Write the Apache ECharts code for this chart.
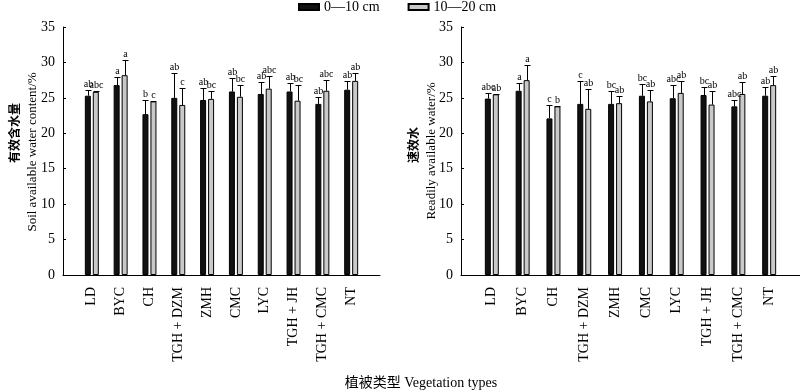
<!DOCTYPE html>
<html>
<head>
<meta charset="utf-8">
<script src="https://cdn.jsdelivr.net/npm/echarts@6/dist/echarts.min.js"></script>
<style>html,body{margin:0;padding:0;background:#fff;}#c{width:800px;height:392px;}</style>
</head>
<body>
<div id="c"></div>
<script>
const categories = ['LD','BYC','CH','TGH + DZM','ZMH','CMC','LYC','TGH + JH','TGH + CMC','NT'];
const seriesNames = ['0\u201410 cm','10\u201420 cm'];
const yTicks = [0,5,10,15,20,25,30,35];

// Left panel: soil available water content (%)
const leftShallow = [25.3,26.8,22.7,25.0,24.7,25.9,25.55,25.9,24.15,26.15];
const leftShallowErr = [0.8,1.1,2.0,3.5,1.7,1.85,1.75,1.2,0.95,1.2];
const leftShallowSig = ['ab','a','b','ab','ab','ab','ab','ab','ab','ab'];
const leftDeep = [25.85,28.2,24.5,24.0,24.85,25.15,26.3,24.6,26.0,27.4];
const leftDeepErr = [0.05,2.1,0.1,2.45,1.15,1.65,1.8,2.2,1.55,1.1];
const leftDeepSig = ['abc','a','c','c','bc','bc','abc','bc','abc','ab'];

// Right panel: readily available water (%)
const rightShallow = [24.9,26.0,22.1,24.15,24.15,25.3,24.95,25.4,23.8,25.3];
const rightShallowErr = [0.8,1.1,1.9,3.25,1.75,1.6,1.8,1.1,0.9,1.3];
const rightShallowSig = ['abc','a','c','c','bc','bc','abc','bc','abc','ab'];
const rightDeep = [25.5,27.5,23.8,23.45,24.25,24.5,25.7,24.05,25.55,26.8];
const rightDeepErr = [0.05,2.1,0.1,2.75,1.05,1.6,1.7,1.95,1.65,1.3];
const rightDeepSig = ['ab','a','b','ab','ab','ab','ab','ab','ab','ab'];

const SERIF = '"Liberation Serif","Times New Roman",serif';
const CJK = '"Noto Sans CJK SC",sans-serif';
const xCats = [''].concat(categories, ['']);
const pad = arr => ['-'].concat(arr, ['-']);
const DARK = '#111111', LIGHT = '#c9c9c9';
const BW = 6, OFF = 4;

function errData(vals, errs){ return vals.map((v,i)=>[i+1, v, errs[i]]); }
function errRender(offset, sig){
  return function(params, api){
    const x = api.value(0), m = api.value(1), e = api.value(2);
    const p0 = api.coord([x, m]);
    const p1 = api.coord([x, m + e]);
    const cx = Math.round(p0[0] + offset) + 0.5;
    const y1 = Math.round(p1[1]) + 0.5;
    return {type:'group', children:[
      {type:'line', shape:{x1:cx, y1:p0[1], x2:cx, y2:y1}, style:{stroke:'#000', lineWidth:1}},
      {type:'line', shape:{x1:cx-3, y1:y1, x2:cx+3, y2:y1}, style:{stroke:'#000', lineWidth:1}},
      {type:'text', x:cx, y:y1-1, style:{text:sig[params.dataIndex], align:'center', verticalAlign:'bottom', font:'10px ' + SERIF, fill:'#000'}}
    ]};
  };
}

function xAxisCfg(gi){
  return {type:'category', gridIndex:gi, data:xCats, boundaryGap:false,
    axisLine:{show:true, lineStyle:{color:'#000', width:1}},
    axisTick:{show:false},
    axisLabel:{interval:0, rotate:90, margin:12, fontFamily:SERIF, fontSize:14, color:'#000'},
    splitLine:{show:false}};
}
function yAxisCfg(gi){
  return {type:'value', gridIndex:gi, min:0, max:35, interval:5,
    axisLine:{show:true, lineStyle:{color:'#000', width:1}},
    axisTick:{show:true, inside:true, length:3, lineStyle:{color:'#000'}},
    axisLabel:{margin:8, fontFamily:SERIF, fontSize:14, color:'#000',
      formatter: v => yTicks.indexOf(v) >= 0 ? String(v) : ''},
    splitLine:{show:false}};
}
function barSeries(name, gi, data, color){
  return {name:name, type:'bar', xAxisIndex:gi, yAxisIndex:gi, data:pad(data),
    barWidth:BW, barGap:'33%',
    itemStyle:{color:color, borderColor:'#000', borderWidth:1}};
}
function errSeries(gi, vals, errs, offset, sig){
  return {type:'custom', xAxisIndex:gi, yAxisIndex:gi, data:errData(vals, errs),
    renderItem: errRender(offset, sig), z:5, silent:true};
}

const chart = echarts.init(document.getElementById('c'), null, {renderer:'canvas'});
chart.setOption({
  backgroundColor:'#fff',
  animation:false,
  legend:{top:0, left:298, padding:0, itemWidth:20, itemHeight:6, itemGap:28,
    icon:'rect',
    data:seriesNames,
    textStyle:{fontFamily:SERIF, fontSize:14, color:'#000'}},
  grid:[
    {left:63, top:27, width:317, height:248, containLabel:false, outerBoundsMode:'none'},
    {left:461, top:27, width:339, height:248, containLabel:false, outerBoundsMode:'none'}
  ],
  xAxis:[xAxisCfg(0), xAxisCfg(1)],
  yAxis:[yAxisCfg(0), yAxisCfg(1)],
  graphic:[
    {type:'text', x:14, y:133, rotation:Math.PI/2, style:{text:'有效含水量', font:'bold 12px ' + CJK, fill:'#000', align:'center', verticalAlign:'middle'}},
    {type:'text', x:33, y:152, rotation:Math.PI/2, style:{text:'Soil available water content/%', font:'13px ' + SERIF, fill:'#000', align:'center', verticalAlign:'middle'}},
    {type:'text', x:413, y:145, rotation:Math.PI/2, style:{text:'速效水', font:'bold 12px ' + CJK, fill:'#000', align:'center', verticalAlign:'middle'}},
    {type:'text', x:432, y:151, rotation:Math.PI/2, style:{text:'Readily available water/%', font:'13px ' + SERIF, fill:'#000', align:'center', verticalAlign:'middle'}},
    {type:'text', x:421, y:383, style:{text:'植被类型 Vegetation types', font:'14px ' + SERIF + ',' + CJK, fill:'#000', align:'center', verticalAlign:'middle'}}
  ],
  series:[
    barSeries(seriesNames[0], 0, leftShallow, DARK),
    barSeries(seriesNames[1], 0, leftDeep, LIGHT),
    barSeries(seriesNames[0], 1, rightShallow, DARK),
    barSeries(seriesNames[1], 1, rightDeep, LIGHT),
    errSeries(0, leftShallow, leftShallowErr, -OFF, leftShallowSig),
    errSeries(0, leftDeep, leftDeepErr, OFF, leftDeepSig),
    errSeries(1, rightShallow, rightShallowErr, -OFF, rightShallowSig),
    errSeries(1, rightDeep, rightDeepErr, OFF, rightDeepSig)
  ]
});
</script>
</body>
</html>
